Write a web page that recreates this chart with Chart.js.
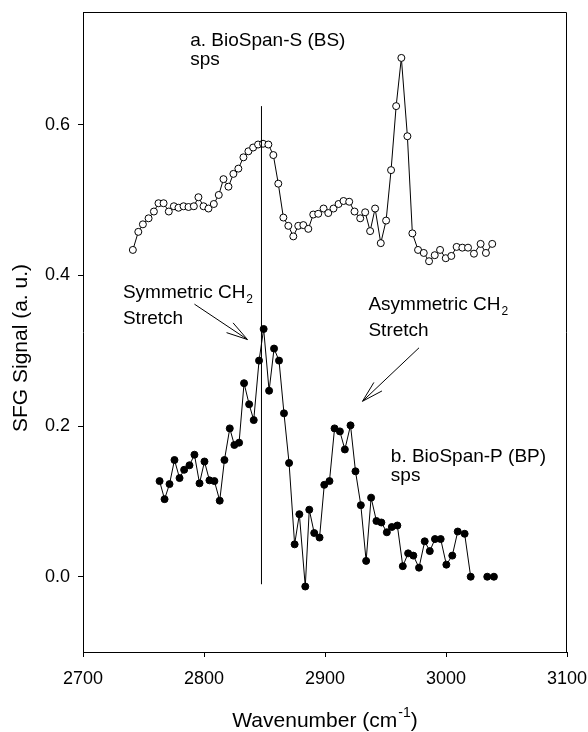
<!DOCTYPE html>
<html>
<head>
<meta charset="utf-8">
<script src="https://cdn.jsdelivr.net/npm/chart.js@4.4.0/dist/chart.umd.min.js"></script>
<style>
  html, body { margin: 0; padding: 0; background: #fff; }
  canvas { display: block; }
</style>
</head>
<body>
<canvas id="chart" width="588" height="732"></canvas>
<script>
// values
const bsWave = [2741.2, 2745.7, 2749.5, 2754.2, 2758.6, 2762.4, 2766.6, 2770.9, 2775.1, 2778.9,
  2783.1, 2787.2, 2791.6, 2795.4, 2799.6, 2803.7, 2808.1, 2812.2, 2816.1, 2820.2,
  2824.3, 2828.4, 2832.6, 2836.7, 2840.6, 2844.7, 2848.8, 2853.2, 2857.3, 2861.4,
  2865.6, 2869.7, 2873.8, 2877.9, 2882.1, 2886.2, 2890.3, 2894.4, 2898.8, 2902.7,
  2907.0, 2911.2, 2915.3, 2920.0, 2924.4, 2929.1, 2933.2, 2937.3, 2941.4, 2946.1,
  2950.5, 2954.6, 2958.8, 2963.1, 2968.1, 2972.2, 2976.9, 2981.6, 2986.0, 2990.7,
  2995.1, 2999.8, 3004.4, 3008.8, 3013.5, 3018.2, 3023.1, 3028.6, 3033.0, 3038.2];
const bsSignal = [0.434, 0.458, 0.468, 0.476, 0.485, 0.496, 0.496, 0.485, 0.492, 0.490,
  0.492, 0.491, 0.492, 0.504, 0.492, 0.489, 0.495, 0.507, 0.528, 0.518,
  0.535, 0.542, 0.557, 0.565, 0.570, 0.574, 0.575, 0.574, 0.560, 0.522,
  0.477, 0.466, 0.452, 0.466, 0.467, 0.462, 0.481, 0.482, 0.489, 0.483,
  0.489, 0.495, 0.499, 0.498, 0.485, 0.476, 0.484, 0.459, 0.489, 0.443,
  0.473, 0.540, 0.625, 0.689, 0.585, 0.456, 0.434, 0.430, 0.419, 0.427,
  0.434, 0.423, 0.426, 0.438, 0.437, 0.437, 0.429, 0.442, 0.430, 0.442];

const bpWave = [2763.3, 2767.4, 2771.5, 2775.6, 2779.8, 2783.6, 2788.0, 2792.1, 2796.3, 2800.4,
  2804.5, 2808.6, 2813.0, 2816.9, 2821.3, 2825.1, 2829.0, 2833.1, 2837.3, 2841.1,
  2845.5, 2849.3, 2853.8, 2857.9, 2862.0, 2866.1, 2870.3, 2874.9, 2878.8, 2883.7,
  2887.0, 2891.1, 2895.5, 2899.4, 2903.7, 2907.9, 2912.3, 2916.4, 2921.1, 2925.2,
  2929.6, 2934.0, 2938.1, 2942.5, 2946.6, 2951.1, 2955.2, 2959.8, 2964.3, 2968.7,
  2973.0, 2977.7, 2982.4, 2986.6, 2990.9, 2995.6, 3000.3, 3005.2, 3009.7, 3015.4,
  3020.4, 3027.0, 3034.1, 3039.6];
const bpSignal = [0.127, 0.103, 0.123, 0.155, 0.131, 0.142, 0.148, 0.162, 0.124, 0.153,
  0.128, 0.127, 0.101, 0.155, 0.197, 0.175, 0.178, 0.257, 0.229, 0.208,
  0.287, 0.329, 0.247, 0.303, 0.287, 0.217, 0.151, 0.043, 0.083, -0.013,
  0.089, 0.058, 0.052, 0.122, 0.127, 0.197, 0.193, 0.169, 0.201, 0.140,
  0.095, 0.021, 0.105, 0.074, 0.072, 0.059, 0.066, 0.068, 0.014, 0.031,
  0.028, 0.012, 0.047, 0.034, 0.050, 0.050, 0.016, 0.028, 0.060, 0.057,
  0.000, null, 0.000, 0.000];

const xTicks = [2700, 2800, 2900, 3000, 3100];
const yTicks = [0.0, 0.2, 0.4, 0.6];

// vertical marker at the symmetric CH2 band
const markerWave = [2847.5, 2847.5];
const markerSignal = [-0.01, 0.625];

// annotations, in data units
const notes = [
  { text: 'a. BioSpan-S (BS)', x: 2788.6, y: 0.712 },
  { text: 'sps', x: 2788.6, y: 0.686 },
  { text: 'Symmetric CH', sub: '2', x: 2733.0, y: 0.377 },
  { text: 'Stretch', x: 2733.0, y: 0.342 },
  { text: 'Asymmetric CH', sub: '2', x: 2935.9, y: 0.361 },
  { text: 'Stretch', x: 2935.9, y: 0.326 },
  { text: 'b. BioSpan-P (BP)', x: 2954.4, y: 0.159 },
  { text: 'sps', x: 2954.4, y: 0.134 }
];
const arrows = [
  { from: [2792.1, 0.362], to: [2835.9, 0.315] },
  { from: [2977.7, 0.304], to: [2931.0, 0.233] }
];

const FONT = "'Liberation Sans', Arial, Helvetica, sans-serif";
const pts = (xs, ys) => xs.map((x, i) => ({ x, y: ys[i] }));

function drawArrow(ctx, x1, y1, x2, y2) {
  const a = Math.atan2(y2 - y1, x2 - x1);
  const len = 22, spread = 0.27;
  ctx.beginPath();
  ctx.moveTo(x1, y1);
  ctx.lineTo(x2, y2);
  ctx.moveTo(x2 - len * Math.cos(a - spread), y2 - len * Math.sin(a - spread));
  ctx.lineTo(x2, y2);
  ctx.lineTo(x2 - len * Math.cos(a + spread), y2 - len * Math.sin(a + spread));
  ctx.stroke();
}

const extras = {
  id: 'extras',
  afterDatasetsDraw(chart) {
    const { ctx, chartArea: ca, scales: { x, y } } = chart;
    ctx.save();
    ctx.strokeStyle = '#000';
    ctx.fillStyle = '#000';
    ctx.lineWidth = 1;

    // top and right frame
    ctx.beginPath();
    ctx.moveTo(ca.left, ca.top + 0.5);
    ctx.lineTo(ca.right - 0.5, ca.top + 0.5);
    ctx.lineTo(ca.right - 0.5, ca.bottom);
    ctx.stroke();

    // labels
    ctx.textBaseline = 'middle';
    ctx.textAlign = 'left';
    notes.forEach(n => {
      const px = x.getPixelForValue(n.x), py = y.getPixelForValue(n.y);
      ctx.font = '19px ' + FONT;
      ctx.fillText(n.text, px, py);
      if (n.sub) {
        const w = ctx.measureText(n.text).width;
        ctx.font = '12px ' + FONT;
        ctx.fillText(n.sub, px + w + 1, py + 7);
      }
    });

    arrows.forEach(a => drawArrow(ctx,
      x.getPixelForValue(a.from[0]), y.getPixelForValue(a.from[1]),
      x.getPixelForValue(a.to[0]), y.getPixelForValue(a.to[1])));

    // axis titles
    ctx.font = '21px ' + FONT;
    const main = 'Wavenumber (cm';
    const wMain = ctx.measureText(main).width;
    const wClose = ctx.measureText(')').width;
    ctx.font = '14px ' + FONT;
    const wSup = ctx.measureText('-1').width;
    const total = wMain + wSup + wClose + 1;
    let tx = (ca.left + ca.right) / 2 - total / 2;
    ctx.textBaseline = 'alphabetic';
    ctx.font = '21px ' + FONT;
    ctx.fillText(main, tx, 727);
    ctx.font = '14px ' + FONT;
    ctx.fillText('-1', tx + wMain + 1, 717);
    ctx.font = '21px ' + FONT;
    ctx.fillText(')', tx + wMain + wSup + 1, 727);

    ctx.translate(21, (ca.top + ca.bottom) / 2 + 16);
    ctx.rotate(-Math.PI / 2);
    ctx.textAlign = 'center';
    ctx.textBaseline = 'middle';
    ctx.fillText('SFG Signal (a. u.)', 0, 0);
    ctx.restore();
  }
};

new Chart(document.getElementById('chart'), {
  type: 'line',
  data: {
    datasets: [
      {
        data: pts(markerWave, markerSignal),
        borderColor: '#000', borderWidth: 1, pointRadius: 0
      },
      {
        label: 'BioSpan-S (BS)',
        data: pts(bsWave, bsSignal),
        borderColor: '#000', borderWidth: 1,
        pointRadius: 3.5, pointBorderWidth: 1,
        pointBackgroundColor: '#fff', pointBorderColor: '#000'
      },
      {
        label: 'BioSpan-P (BP)',
        data: pts(bpWave, bpSignal),
        borderColor: '#000', borderWidth: 1, spanGaps: false,
        pointRadius: 3.5, pointBorderWidth: 1,
        pointBackgroundColor: '#000', pointBorderColor: '#000'
      }
    ]
  },
  options: {
    responsive: false,
    animation: false,
    devicePixelRatio: 1,
    layout: { padding: { top: 12, right: 21, left: 0, bottom: 0 } },
    plugins: { legend: { display: false }, tooltip: { enabled: false } },
    scales: {
      x: {
        type: 'linear', min: 2700, max: 3100,
        afterBuildTicks: s => { s.ticks = xTicks.map(v => ({ value: v })); },
        afterFit: s => { s.height = 80; s.paddingLeft = 0; s.paddingRight = 0; },
        ticks: { color: '#000', font: { size: 18, family: FONT }, padding: 11, maxRotation: 0, autoSkip: false, callback: v => String(v) },
        grid: { drawOnChartArea: false, tickLength: 5, color: '#000' },
        border: { color: '#000', width: 1 }
      },
      y: {
        type: 'linear', min: -0.1, max: 0.75,
        afterBuildTicks: s => { s.ticks = yTicks.map(v => ({ value: v })); },
        afterFit: s => { s.width = 83; s.paddingTop = 0; s.paddingBottom = 0; },
        ticks: { color: '#000', font: { size: 18, family: FONT }, padding: 8, callback: v => v.toFixed(1) },
        grid: { drawOnChartArea: false, tickLength: 5, color: '#000' },
        border: { color: '#000', width: 1 }
      }
    }
  },
  plugins: [extras]
});
</script>
</body>
</html>
